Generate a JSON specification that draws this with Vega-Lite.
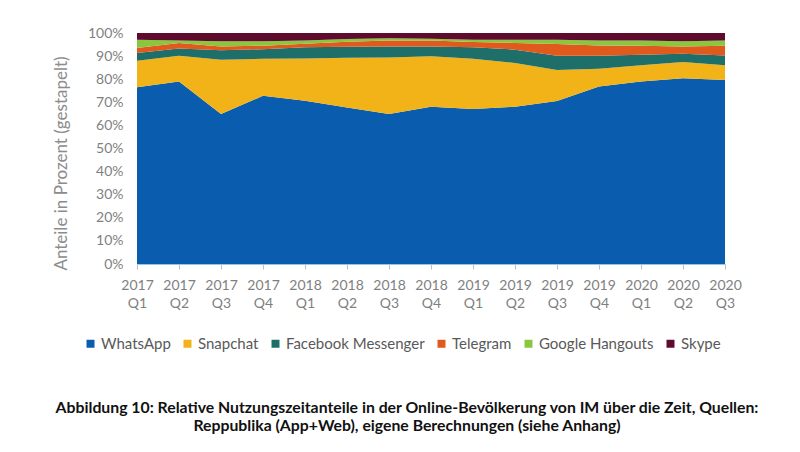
{
  "$schema": "https://vega.github.io/schema/vega-lite/v6.json",
  "width": 588,
  "height": 231,
  "padding": {"left": 52, "top": 26, "right": 5, "bottom": 5},
  "background": "white",
  "config": {
    "font": "Lato",
    "view": {"stroke": null}
  },
  "title": {
    "text": ["Abbildung 10: Relative Nutzungszeitanteile in der Online-Bevölkerung von IM über die Zeit, Quellen:", "Reppublika (App+Web), eigene Berechnungen (siehe Anhang)"],
    "orient": "bottom",
    "anchor": "middle",
    "fontSize": 15.8,
    "fontWeight": "bold",
    "font": "Lato",
    "color": "#111111",
    "offset": 49,
    "dx": -24,
    "lineHeight": 18
  },
  "data": {
    "values": [
      {"q": "2017 Q1", "app": "WhatsApp", "k": 1, "v": 76.5},
      {"q": "2017 Q1", "app": "Snapchat", "k": 2, "v": 11.5},
      {"q": "2017 Q1", "app": "Facebook Messenger", "k": 3, "v": 3.3},
      {"q": "2017 Q1", "app": "Telegram", "k": 4, "v": 2.2},
      {"q": "2017 Q1", "app": "Google Hangouts", "k": 5, "v": 3.6},
      {"q": "2017 Q1", "app": "Skype", "k": 6, "v": 2.9},
      {"q": "2017 Q2", "app": "WhatsApp", "k": 1, "v": 79.0},
      {"q": "2017 Q2", "app": "Snapchat", "k": 2, "v": 11.1},
      {"q": "2017 Q2", "app": "Facebook Messenger", "k": 3, "v": 3.2},
      {"q": "2017 Q2", "app": "Telegram", "k": 4, "v": 2.4},
      {"q": "2017 Q2", "app": "Google Hangouts", "k": 5, "v": 1.1},
      {"q": "2017 Q2", "app": "Skype", "k": 6, "v": 3.2},
      {"q": "2017 Q3", "app": "WhatsApp", "k": 1, "v": 64.9},
      {"q": "2017 Q3", "app": "Snapchat", "k": 2, "v": 23.5},
      {"q": "2017 Q3", "app": "Facebook Messenger", "k": 3, "v": 4.1},
      {"q": "2017 Q3", "app": "Telegram", "k": 4, "v": 1.7},
      {"q": "2017 Q3", "app": "Google Hangouts", "k": 5, "v": 2.2},
      {"q": "2017 Q3", "app": "Skype", "k": 6, "v": 3.6},
      {"q": "2017 Q4", "app": "WhatsApp", "k": 1, "v": 72.8},
      {"q": "2017 Q4", "app": "Snapchat", "k": 2, "v": 16.0},
      {"q": "2017 Q4", "app": "Facebook Messenger", "k": 3, "v": 4.2},
      {"q": "2017 Q4", "app": "Telegram", "k": 4, "v": 1.5},
      {"q": "2017 Q4", "app": "Google Hangouts", "k": 5, "v": 1.9},
      {"q": "2017 Q4", "app": "Skype", "k": 6, "v": 3.6},
      {"q": "2018 Q1", "app": "WhatsApp", "k": 1, "v": 70.7},
      {"q": "2018 Q1", "app": "Snapchat", "k": 2, "v": 18.3},
      {"q": "2018 Q1", "app": "Facebook Messenger", "k": 3, "v": 4.8},
      {"q": "2018 Q1", "app": "Telegram", "k": 4, "v": 1.6},
      {"q": "2018 Q1", "app": "Google Hangouts", "k": 5, "v": 1.4},
      {"q": "2018 Q1", "app": "Skype", "k": 6, "v": 3.2},
      {"q": "2018 Q2", "app": "WhatsApp", "k": 1, "v": 67.8},
      {"q": "2018 Q2", "app": "Snapchat", "k": 2, "v": 21.5},
      {"q": "2018 Q2", "app": "Facebook Messenger", "k": 3, "v": 4.7},
      {"q": "2018 Q2", "app": "Telegram", "k": 4, "v": 2.2},
      {"q": "2018 Q2", "app": "Google Hangouts", "k": 5, "v": 1.2},
      {"q": "2018 Q2", "app": "Skype", "k": 6, "v": 2.6},
      {"q": "2018 Q3", "app": "WhatsApp", "k": 1, "v": 64.9},
      {"q": "2018 Q3", "app": "Snapchat", "k": 2, "v": 24.5},
      {"q": "2018 Q3", "app": "Facebook Messenger", "k": 3, "v": 4.8},
      {"q": "2018 Q3", "app": "Telegram", "k": 4, "v": 2.6},
      {"q": "2018 Q3", "app": "Google Hangouts", "k": 5, "v": 0.9},
      {"q": "2018 Q3", "app": "Skype", "k": 6, "v": 2.3},
      {"q": "2018 Q4", "app": "WhatsApp", "k": 1, "v": 68.1},
      {"q": "2018 Q4", "app": "Snapchat", "k": 2, "v": 21.8},
      {"q": "2018 Q4", "app": "Facebook Messenger", "k": 3, "v": 4.3},
      {"q": "2018 Q4", "app": "Telegram", "k": 4, "v": 2.5},
      {"q": "2018 Q4", "app": "Google Hangouts", "k": 5, "v": 0.8},
      {"q": "2018 Q4", "app": "Skype", "k": 6, "v": 2.5},
      {"q": "2019 Q1", "app": "WhatsApp", "k": 1, "v": 67.1},
      {"q": "2019 Q1", "app": "Snapchat", "k": 2, "v": 21.7},
      {"q": "2019 Q1", "app": "Facebook Messenger", "k": 3, "v": 5.0},
      {"q": "2019 Q1", "app": "Telegram", "k": 4, "v": 2.3},
      {"q": "2019 Q1", "app": "Google Hangouts", "k": 5, "v": 1.0},
      {"q": "2019 Q1", "app": "Skype", "k": 6, "v": 2.9},
      {"q": "2019 Q2", "app": "WhatsApp", "k": 1, "v": 68.1},
      {"q": "2019 Q2", "app": "Snapchat", "k": 2, "v": 18.9},
      {"q": "2019 Q2", "app": "Facebook Messenger", "k": 3, "v": 5.8},
      {"q": "2019 Q2", "app": "Telegram", "k": 4, "v": 2.9},
      {"q": "2019 Q2", "app": "Google Hangouts", "k": 5, "v": 1.4},
      {"q": "2019 Q2", "app": "Skype", "k": 6, "v": 2.9},
      {"q": "2019 Q3", "app": "WhatsApp", "k": 1, "v": 70.6},
      {"q": "2019 Q3", "app": "Snapchat", "k": 2, "v": 13.4},
      {"q": "2019 Q3", "app": "Facebook Messenger", "k": 3, "v": 6.1},
      {"q": "2019 Q3", "app": "Telegram", "k": 4, "v": 5.1},
      {"q": "2019 Q3", "app": "Google Hangouts", "k": 5, "v": 1.9},
      {"q": "2019 Q3", "app": "Skype", "k": 6, "v": 2.9},
      {"q": "2019 Q4", "app": "WhatsApp", "k": 1, "v": 76.8},
      {"q": "2019 Q4", "app": "Snapchat", "k": 2, "v": 7.7},
      {"q": "2019 Q4", "app": "Facebook Messenger", "k": 3, "v": 5.6},
      {"q": "2019 Q4", "app": "Telegram", "k": 4, "v": 4.5},
      {"q": "2019 Q4", "app": "Google Hangouts", "k": 5, "v": 2.1},
      {"q": "2019 Q4", "app": "Skype", "k": 6, "v": 3.3},
      {"q": "2020 Q1", "app": "WhatsApp", "k": 1, "v": 79.0},
      {"q": "2020 Q1", "app": "Snapchat", "k": 2, "v": 7.0},
      {"q": "2020 Q1", "app": "Facebook Messenger", "k": 3, "v": 4.6},
      {"q": "2020 Q1", "app": "Telegram", "k": 4, "v": 3.9},
      {"q": "2020 Q1", "app": "Google Hangouts", "k": 5, "v": 2.3},
      {"q": "2020 Q1", "app": "Skype", "k": 6, "v": 3.2},
      {"q": "2020 Q2", "app": "WhatsApp", "k": 1, "v": 80.4},
      {"q": "2020 Q2", "app": "Snapchat", "k": 2, "v": 7.1},
      {"q": "2020 Q2", "app": "Facebook Messenger", "k": 3, "v": 3.5},
      {"q": "2020 Q2", "app": "Telegram", "k": 4, "v": 3.2},
      {"q": "2020 Q2", "app": "Google Hangouts", "k": 5, "v": 2.2},
      {"q": "2020 Q2", "app": "Skype", "k": 6, "v": 3.6},
      {"q": "2020 Q3", "app": "WhatsApp", "k": 1, "v": 79.7},
      {"q": "2020 Q3", "app": "Snapchat", "k": 2, "v": 6.3},
      {"q": "2020 Q3", "app": "Facebook Messenger", "k": 3, "v": 4.3},
      {"q": "2020 Q3", "app": "Telegram", "k": 4, "v": 4.2},
      {"q": "2020 Q3", "app": "Google Hangouts", "k": 5, "v": 2.3},
      {"q": "2020 Q3", "app": "Skype", "k": 6, "v": 3.2}
    ]
  },
  "mark": {"type": "area", "interpolate": "linear"},
  "encoding": {
    "x": {
      "field": "q",
      "type": "ordinal",
      "sort": null,
      "scale": {"type": "point", "padding": 0},
      "axis": {
        "title": null,
        "labelAngle": 0,
        "labelExpr": "split(datum.label, ' ')",
        "labelFontSize": 14,
        "labelColor": "#7f7f7f",
        "labelLineHeight": 18,
        "labelPadding": 9,
        "domainColor": "#9dc3e6",
        "tickColor": "#bfbfbf",
        "tickSize": 5,
        "grid": false
      }
    },
    "y": {
      "field": "v",
      "type": "quantitative",
      "stack": "normalize",
      "scale": {"domain": [0, 1], "nice": false},
      "axis": {
        "title": "Anteile in Prozent (gestapelt)",
        "titleFontSize": 17,
        "titleFontWeight": "normal",
        "titleColor": "#8c8c8c",
        "titlePadding": 17,
        "titleY": 130,
        "values": [0, 0.1, 0.2, 0.3, 0.4, 0.5, 0.6, 0.7, 0.8, 0.9, 1],
        "format": ".0%",
        "labelFontSize": 14,
        "labelColor": "#7f7f7f",
        "labelPadding": 14,
        "domain": false,
        "ticks": false,
        "grid": false
      }
    },
    "color": {
      "field": "app",
      "type": "nominal",
      "scale": {
        "domain": ["WhatsApp", "Snapchat", "Facebook Messenger", "Telegram", "Google Hangouts", "Skype"],
        "range": ["#0a5dae", "#f1b317", "#1e6e6a", "#e05a1e", "#8cc63e", "#5e0b2e"]
      },
      "legend": {
        "title": null,
        "orient": "none",
        "direction": "horizontal",
        "legendX": -54,
        "legendY": 303,
        "symbolType": "square",
        "symbolSize": 64,
        "symbolStrokeWidth": 0,
        "labelFontSize": 15,
        "labelColor": "#595959",
        "labelOffset": 3,
        "columnPadding": 9
      }
    },
    "order": {"field": "k", "type": "quantitative"}
  }
}
